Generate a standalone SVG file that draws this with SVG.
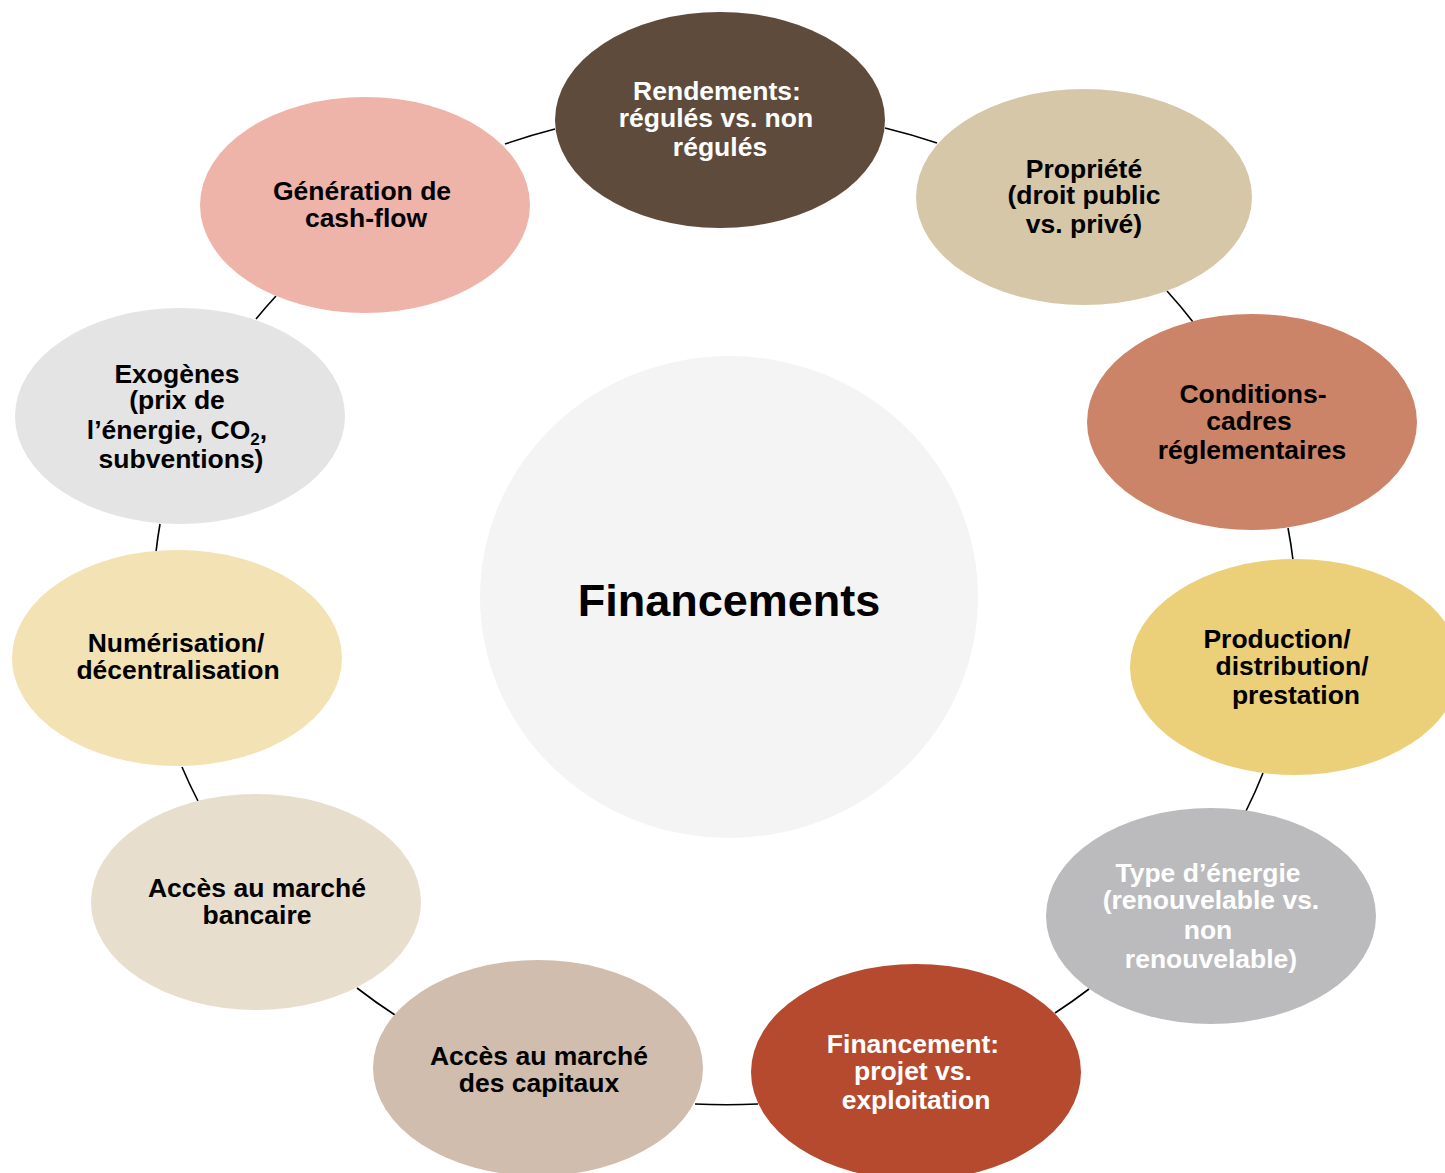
<svg xmlns="http://www.w3.org/2000/svg" width="1445" height="1173" viewBox="0 0 1445 1173">
<style>
.t{font-family:"Liberation Sans",Arial,sans-serif;font-weight:bold;font-size:26.5px;text-anchor:middle;fill:#000}
.w{fill:#fff}
.c{fill:none;stroke:#000;stroke-width:1.6}
</style>
<rect width="1445" height="1173" fill="#fff"/>
<g id="connectors">
<path class="c" d="M505,144 A566,490 0 0 1 555,129"/>
<path class="c" d="M885,128 A566,490 0 0 1 937,143"/>
<path class="c" d="M1167,291 A566,490 0 0 1 1193,322"/>
<path class="c" d="M1288,528 A566,490 0 0 1 1293,560"/>
<path class="c" d="M1263,773 A566,490 0 0 1 1246,811"/>
<path class="c" d="M1089,989 A566,490 0 0 1 1055,1013"/>
<path class="c" d="M758,1104 A566,490 0 0 1 695,1104"/>
<path class="c" d="M395,1015 A566,490 0 0 1 357,988"/>
<path class="c" d="M198,801 A566,490 0 0 1 182,767"/>
<path class="c" d="M156,552 A566,490 0 0 1 160,524"/>
<path class="c" d="M256,319 A566,490 0 0 1 276,296"/>
</g>
<g id="center">
<ellipse cx="729" cy="597" rx="249" ry="241" fill="#F4F4F4"/>
<text class="t" x="729" y="616" style="font-size:45px">Financements</text>
</g>
<g id="n1">
<ellipse cx="720" cy="120" rx="165" ry="108" fill="#5E4B3C"/>
<text class="t w" x="717" y="100">Rendements:</text>
<text class="t w" x="716" y="127">régulés vs. non</text>
<text class="t w" x="720" y="156">régulés</text>
</g>
<g id="n2">
<ellipse cx="1084" cy="197" rx="168" ry="108" fill="#D6C7A8"/>
<text class="t" x="1084" y="178">Propriété</text>
<text class="t" x="1084" y="204">(droit public</text>
<text class="t" x="1084" y="233">vs. privé)</text>
</g>
<g id="n3">
<ellipse cx="1252" cy="422" rx="165" ry="108" fill="#CC8468"/>
<text class="t" x="1253" y="403">Conditions-</text>
<text class="t" x="1249" y="430">cadres</text>
<text class="t" x="1252" y="459">réglementaires</text>
</g>
<g id="n4">
<ellipse cx="1295" cy="667" rx="165" ry="108" fill="#EBCF79"/>
<text class="t" x="1277" y="648">Production/</text>
<text class="t" x="1292" y="675">distribution/</text>
<text class="t" x="1296" y="704">prestation</text>
</g>
<g id="n5">
<ellipse cx="1211" cy="916" rx="165" ry="108" fill="#BBBBBD"/>
<text class="t w" x="1208" y="882">Type d’énergie</text>
<text class="t w" x="1211" y="909">(renouvelable vs.</text>
<text class="t w" x="1208" y="939">non</text>
<text class="t w" x="1211" y="968">renouvelable)</text>
</g>
<g id="n6">
<ellipse cx="916" cy="1072" rx="165" ry="108" fill="#B54A2F"/>
<text class="t w" x="913" y="1053">Financement:</text>
<text class="t w" x="913" y="1080">projet vs.</text>
<text class="t w" x="916" y="1109">exploitation</text>
</g>
<g id="n7">
<ellipse cx="538" cy="1068" rx="165" ry="108" fill="#D0BDAD"/>
<text class="t" x="539" y="1065">Accès au marché</text>
<text class="t" x="539" y="1092">des capitaux</text>
</g>
<g id="n8">
<ellipse cx="256" cy="902" rx="165" ry="108" fill="#E8DECE"/>
<text class="t" x="257" y="897">Accès au marché</text>
<text class="t" x="257" y="924">bancaire</text>
</g>
<g id="n9">
<ellipse cx="177" cy="658" rx="165" ry="108" fill="#F3E2B3"/>
<text class="t" x="176" y="652">Numérisation/</text>
<text class="t" x="178" y="679">décentralisation</text>
</g>
<g id="n10">
<ellipse cx="180" cy="416" rx="165" ry="108" fill="#E4E4E4"/>
<text class="t" x="177" y="383">Exogènes</text>
<text class="t" x="177" y="409">(prix de</text>
<text class="t" x="177" y="439">l’énergie, CO<tspan style="font-size:17px" dy="6">2</tspan><tspan dy="-6">,</tspan></text>
<text class="t" x="181" y="468">subventions)</text>
</g>
<g id="n11">
<ellipse cx="365" cy="205" rx="165" ry="108" fill="#EEB3A9"/>
<text class="t" x="362" y="200">Génération de</text>
<text class="t" x="366" y="227">cash-flow</text>
</g>
</svg>
